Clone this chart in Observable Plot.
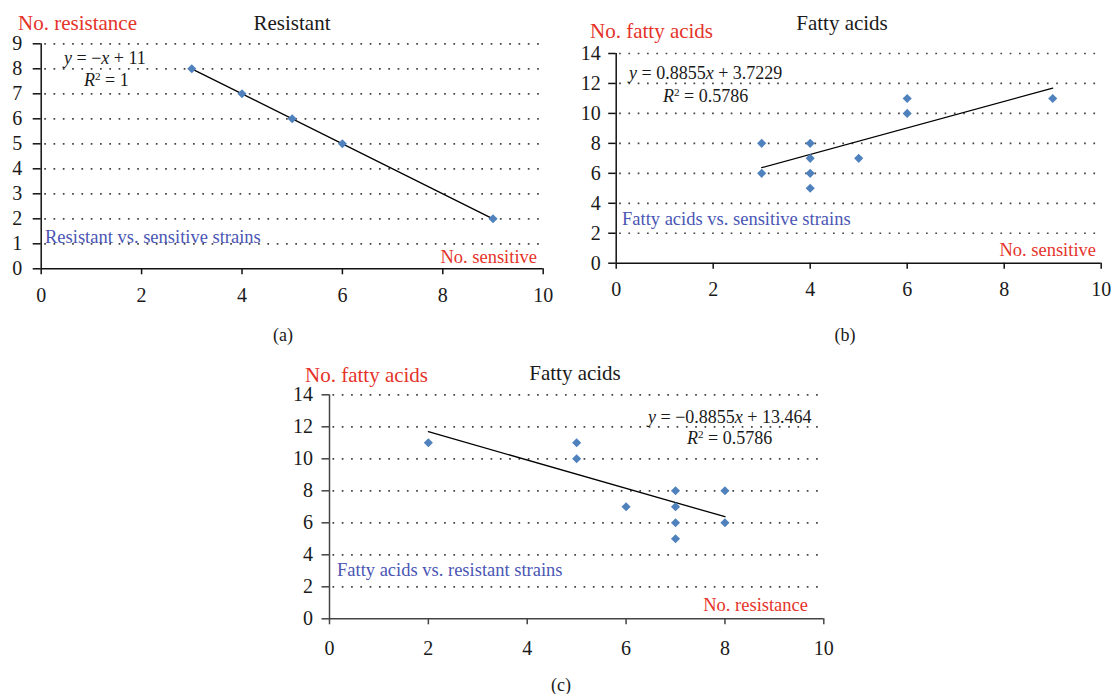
<!DOCTYPE html>
<html>
<head>
<meta charset="utf-8">
<script src="https://cdn.jsdelivr.net/npm/d3@7"></script>
<script src="https://cdn.jsdelivr.net/npm/@observablehq/plot@0.6"></script>
<style>
  html, body { margin: 0; padding: 0; background: #fff; }
  #root { position: relative; width: 1112px; height: 694px; overflow: hidden; font-family: "Liberation Serif", "Times New Roman", serif; color: #1a1a1a; }
  .abs { position: absolute; white-space: nowrap; line-height: 1; }
  .abs sup { font-size: 0.62em; line-height: 0; vertical-align: 0.55em; }
  .panel { position: absolute; }
  .panel svg g[aria-label$="tick label"] { font-size: 20px !important; font-family: "Liberation Serif", serif !important; fill: #1a1a1a; }
</style>
</head>
<body>
<div id="root"></div>
<script>
// ---------- data ----------
const xTicks = [0, 2, 4, 6, 8, 10];
const yTicksA = [0, 1, 2, 3, 4, 5, 6, 7, 8, 9];
const yTicksBC = [0, 2, 4, 6, 8, 10, 12, 14];

const sensitiveA = [3, 4, 5, 6, 9];
const resistantA = [8, 7, 6, 5, 2];

const sensitiveB = [3, 3, 4, 4, 4, 4, 5, 6, 6, 9];
const fattyB = [8, 6, 8, 7, 6, 5, 7, 11, 10, 11];

const resistantC = [2, 5, 5, 6, 7, 7, 7, 7, 8, 8];
const fattyC = [11, 11, 10, 7, 8, 7, 6, 5, 8, 6];

const trendSlopes = [-1, 0.8855, -0.8855];
const trendIntercepts = [11, 3.7229, 13.464];
const trendXStart = [3, 3, 2];
const trendXEnd = [9, 9, 8];
const rSquared = ["1", "0.5786", "0.5786"];

const titles = ["Resistant", "Fatty acids", "Fatty acids"];
const yTitles = ["No. resistance", "No. fatty acids", "No. fatty acids"];
const xTitles = ["No. sensitive", "No. sensitive", "No. resistance"];
const descriptions = ["Resistant vs. sensitive strains", "Fatty acids vs. sensitive strains", "Fatty acids vs. resistant strains"];
const panelLetters = ["(a)", "(b)", "(c)"];

// ---------- styling ----------
const RED = "#e5332a";
const BLUE_TEXT = "#4a56b4";
const POINT = "#4f81bd";

const root = document.getElementById("root");

function place(html, x, y, anchor, size, color) {
  const el = document.createElement("div");
  el.className = "abs";
  el.innerHTML = html;
  el.style.left = x + "px";
  el.style.top = y + "px";
  el.style.fontSize = size + "px";
  el.style.color = color;
  const tx = anchor === "middle" ? "-50%" : anchor === "end" ? "-100%" : "0";
  el.style.transform = `translate(${tx}, -50%)`;
  root.appendChild(el);
}

function fmtEq(i) {
  const s = trendSlopes[i], b = trendIntercepts[i];
  const sign = s < 0 ? "\u2212" : "";
  const mag = Math.abs(s) === 1 ? "" : String(Math.abs(s));
  return `<i>y</i> = ${sign}${mag}<i>x</i> + ${b}`;
}

const layouts = [
  {left: 0, top: 0, w: 560, h: 310, ml: 40.7, mr: 17.3, mt: 43.3, mb: 41.7, yDomain: [0, 9], yTicks: yTicksA,
   yTickSize: 8, yPad: 11, xPad: 13, axis: "#111", xs: sensitiveA, ys: resistantA,
   text: {yTitle: [18, 22.5], title: [292, 22.5], eq: [64, 57.5], r2: [84, 80], desc: [45, 237], xTitle: [537, 257], letter: [283, 335]}},
  {left: 560, top: 0, w: 552, h: 310, ml: 55.7, mr: 11.3, mt: 53, mb: 47.3, yDomain: [0, 14], yTicks: yTicksBC,
   yTickSize: 7.5, yPad: 8, xPad: 13, axis: "#111", xs: sensitiveB, ys: fattyB,
   text: {yTitle: [590, 31], title: [842, 22.5], eq: [629, 73], r2: [663, 96], desc: [622, 218.5], xTitle: [1096, 250], letter: [845, 335]}},
  {left: 270, top: 340, w: 580, h: 320, ml: 59, mr: 26.7, mt: 54.3, mb: 41.7, yDomain: [0, 14], yTicks: yTicksBC,
   yTickSize: 7.5, yPad: 9, xPad: 16, axis: "#444", xs: resistantC, ys: fattyC,
   text: {yTitle: [305, 375], title: [575, 372.5], eq: [648, 416.5], r2: [687, 438], desc: [337, 570], xTitle: [808, 605], letter: [561, 685]}}
];

layouts.forEach((L, i) => {
  const pts = L.xs.map((x, k) => ({x, y: L.ys[k]}));
  const trend = [trendXStart[i], trendXEnd[i]].map(x => ({x, y: trendSlopes[i] * x + trendIntercepts[i]}));
  const grid = L.yTicks.filter(d => d > 0);
  const chart = Plot.plot({
    width: L.w, height: L.h,
    marginLeft: L.ml, marginRight: L.mr, marginTop: L.mt, marginBottom: L.mb,
    x: {domain: [0, 10]},
    y: {domain: L.yDomain},
    style: {fontFamily: "'Liberation Serif', serif", fontSize: "20px", color: "#1a1a1a", background: "transparent", overflow: "visible"},
    marks: [
      Plot.ruleY(grid, {x1: 0.07, x2: 10, stroke: "#444", strokeWidth: 1.7, strokeDasharray: "1.7 7.6"}),
      Plot.ruleX([0], {stroke: L.axis, strokeWidth: 1.5}),
      Plot.ruleY([0], {stroke: L.axis, strokeWidth: 1.5}),
      Plot.axisX(xTicks, {tickSize: 6, tickPadding: L.xPad, stroke: L.axis, strokeWidth: 1.5, label: null, fontSize: 20}),
      Plot.axisY(L.yTicks, {tickSize: L.yTickSize, tickPadding: L.yPad, stroke: L.axis, strokeWidth: 1.5, label: null, fontSize: 20}),
      Plot.line(trend, {x: "x", y: "y", stroke: "#000", strokeWidth: 1.3}),
      Plot.dot(pts, {x: "x", y: "y", symbol: "diamond2", r: 4.1, fill: POINT, stroke: "none"})
    ]
  });
  const wrap = document.createElement("div");
  wrap.className = "panel";
  wrap.style.left = L.left + "px";
  wrap.style.top = L.top + "px";
  wrap.appendChild(chart);
  root.appendChild(wrap);

  const T = L.text;
  place(yTitles[i], T.yTitle[0], T.yTitle[1], "start", 21, RED);
  place(titles[i], T.title[0], T.title[1], "middle", 21, "#1a1a1a");
  place(fmtEq(i), T.eq[0], T.eq[1], "start", 18, "#1a1a1a");
  place(`<i>R</i><sup>2</sup> = ${rSquared[i]}`, T.r2[0], T.r2[1], "start", 18, "#1a1a1a");
  place(descriptions[i], T.desc[0], T.desc[1], "start", 18.5, BLUE_TEXT);
  place(xTitles[i], T.xTitle[0], T.xTitle[1], "end", 18.5, RED);
  place(panelLetters[i], T.letter[0], T.letter[1], "middle", 18, "#1a1a1a");
});
</script>
</body>
</html>
